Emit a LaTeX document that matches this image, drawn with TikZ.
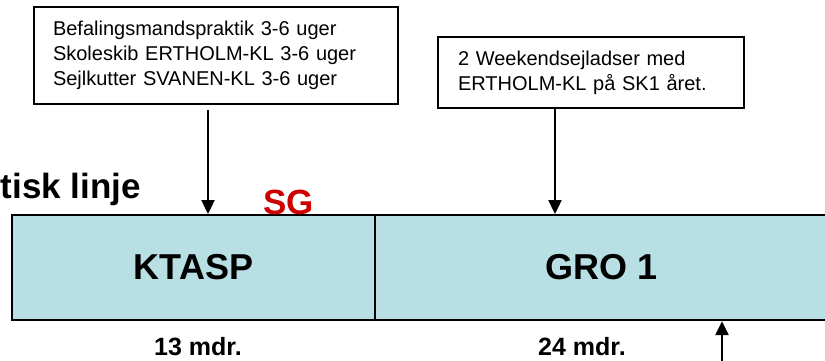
\documentclass[tikz,border=0pt]{standalone}
\usepackage{fontspec}
\setmainfont{Liberation Sans}
\usetikzlibrary{arrows.meta}
\definecolor{barfill}{RGB}{184,223,227}
\definecolor{sgred}{RGB}{204,0,0}
\begin{document}
\begin{tikzpicture}[x=1pt,y=-1pt,
  note/.style={draw, line width=2pt, align=left, anchor=north west,
    font=\fontsize{20}{25}\selectfont},
  phase/.style={draw, line width=2.2pt, fill=barfill, anchor=north west,
    font=\bfseries\fontsize{36}{40}\selectfont, minimum height=105pt, inner sep=0pt},
  dur/.style={font=\bfseries\fontsize{25}{28}\selectfont, anchor=base, inner sep=0pt},
  arr/.style={line width=2.4pt, -{Triangle[length=14pt,width=13pt]}}]
\useasboundingbox (0,0) rectangle (825,361);
% timeline bar
\node[phase, minimum width=363pt] (k) at (11,214) {KTASP};
\node[phase, minimum width=453pt] (g) at (374,214) {GRO 1};
% note boxes
\node[note, inner xsep=19pt, text width=326pt, minimum height=97pt] (b1) at (33,6)
  {Befalingsmandspraktik 3-6 uger\\Skoleskib ERTHOLM-KL 3-6 uger\\Sejlkutter SVANEN-KL 3-6 uger};
\node[note, inner xsep=20pt, text width=266pt, minimum height=71pt] (b2) at (437,36)
  {2 Weekendsejladser med\\ERTHOLM-KL på SK1 året.};
% titles
\node[anchor=base east, inner sep=0pt, font=\bfseries\fontsize{35}{40}\selectfont] (title) at (141,198) {tisk linje};
\node[anchor=base west, inner sep=0pt, text=sgred, font=\bfseries\fontsize{35}{40}\selectfont] (sg) at (263,214) {SG};
% durations
\node[dur] (d1) at (198,355) {13 mdr.};
\node[dur] (d2) at (582,355) {24 mdr.};
% arrows
\coordinate (a1) at (208,0);
\coordinate (a2) at (555,0);
\coordinate (a3) at (722,366);
\draw[arr, shorten <=5pt] (b1.south -| a1) -- (k.north -| a1);
\draw[arr] (b2.south -| a2) -- (g.north -| a2);
\draw[arr] (a3) -- (g.south -| a3);
\end{tikzpicture}
\end{document}
